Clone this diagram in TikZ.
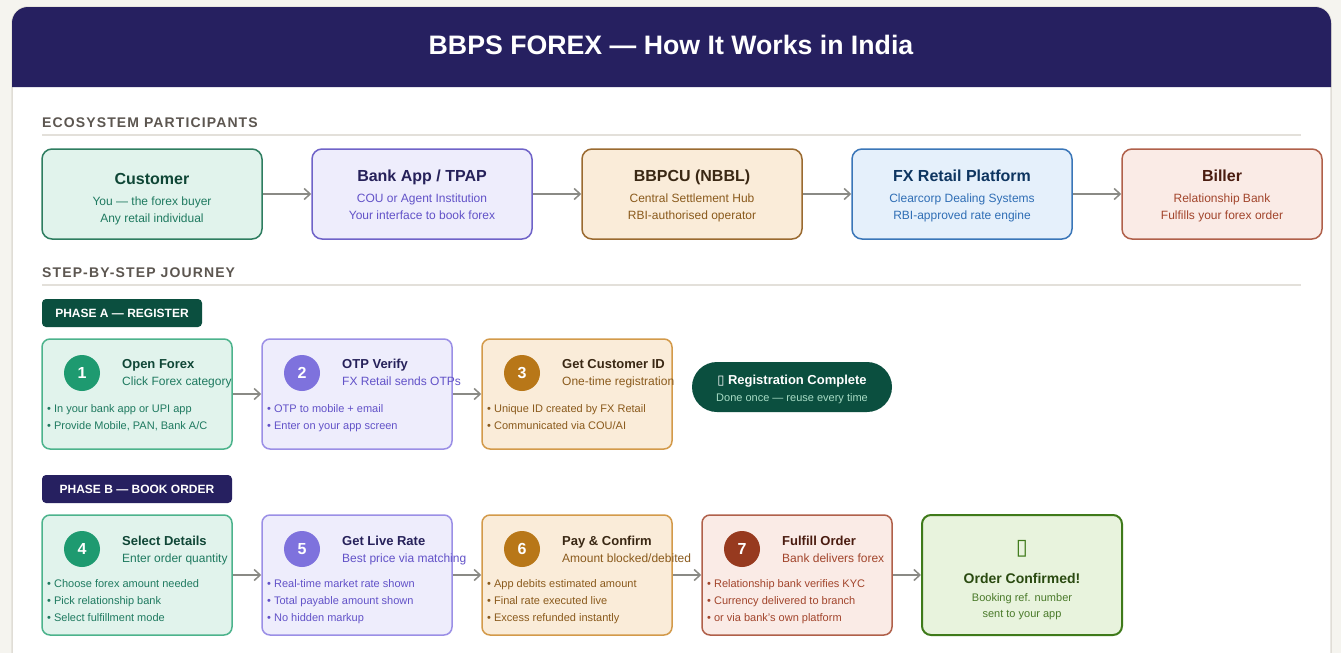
\documentclass[tikz,border=0pt]{standalone}
\usepackage{fontspec}
\setmainfont{Liberation Sans}
\newfontfamily\spacedfont[LetterSpace=8]{Liberation Sans}
\newfontfamily\symfont{DejaVu Sans}
\usetikzlibrary{arrows.meta}
\newcommand\fsz[2]{\fontsize{#1}{#2}\selectfont}
% page / card
\definecolor{pagebg}{HTML}{F5F4EF}
\definecolor{cardline}{HTML}{E0DDD6}
\definecolor{navy}{HTML}{262060}
\definecolor{darkgreen}{HTML}{0B4F3F}
\definecolor{headgrey}{HTML}{5C5650}
\definecolor{rulegrey}{HTML}{E3E0DA}
\definecolor{arrowgrey}{HTML}{8A8A85}
% green family
\definecolor{gFill}{HTML}{E1F3EC}
\definecolor{gLine}{HTML}{2E7D60}
\definecolor{gLineL}{HTML}{4CB38C}
\definecolor{gTitle}{HTML}{0F4636}
\definecolor{gText}{HTML}{1F7A60}
\definecolor{gCirc}{HTML}{1E9A70}
% purple family
\definecolor{pFill}{HTML}{EEEDFC}
\definecolor{pLine}{HTML}{6F63C8}
\definecolor{pLineL}{HTML}{9B8FE6}
\definecolor{pTitle}{HTML}{26215A}
\definecolor{pText}{HTML}{6252C8}
\definecolor{pCirc}{HTML}{7E72DD}
% amber family
\definecolor{aFill}{HTML}{FAECD9}
\definecolor{aLine}{HTML}{9A6A30}
\definecolor{aLineL}{HTML}{D39A4A}
\definecolor{aTitle}{HTML}{3A2814}
\definecolor{aText}{HTML}{8A5A1C}
\definecolor{aCirc}{HTML}{B87718}
% blue family
\definecolor{bFill}{HTML}{E5F0FB}
\definecolor{bLine}{HTML}{3A76B8}
\definecolor{bTitle}{HTML}{0E3560}
\definecolor{bText}{HTML}{2F6EB5}
% red family
\definecolor{rFill}{HTML}{FAEBE6}
\definecolor{rLine}{HTML}{B0604A}
\definecolor{rTitle}{HTML}{4A1C10}
\definecolor{rText}{HTML}{A2452C}
\definecolor{rCirc}{HTML}{973A1F}
% final
\definecolor{okFill}{HTML}{E8F3DD}
\definecolor{okLine}{HTML}{3F7A1A}
\definecolor{okTitle}{HTML}{2A4A10}
\definecolor{okText}{HTML}{4A7A2A}
\definecolor{pillText}{HTML}{A8DCC5}

\begin{document}
\begin{tikzpicture}[x=1pt,y=-1pt,
  ebox/.style={draw, rounded corners=10pt, line width=1.5pt, minimum width=220pt, minimum height=90pt, inner sep=0pt},
  sbox/.style={draw, rounded corners=8pt, line width=1.5pt, minimum width=190pt, minimum height=110pt, inner sep=0pt},
  num/.style={circle, minimum size=36pt, inner sep=0pt, text=white, font=\fsz{16}{19}\bfseries},
  txt/.style={inner sep=0pt, anchor=mid},
  etitle/.style={txt, yshift=-3pt, font=\fsz{16}{19}\bfseries},
  esub/.style={txt, yshift=-2pt, font=\fsz{12}{14}},
  stitle/.style={inner sep=0pt, anchor=mid west, yshift=-3pt, font=\fsz{13}{15}\bfseries},
  ssub/.style={inner sep=0pt, anchor=mid west, yshift=-3pt, font=\fsz{12}{14}},
  bullet/.style={inner sep=0pt, anchor=mid west, yshift=-2pt, font=\fsz{11}{13}},
  badge/.style={rounded corners=4pt, inner sep=0pt, minimum height=28pt, text=white, font=\fsz{12}{14}\bfseries},
  sechead/.style={inner sep=0pt, anchor=mid west, yshift=-3pt, text=headgrey, font=\fsz{14}{16}\spacedfont\bfseries},
  arr/.style={draw=arrowgrey, line width=1.5pt, -{Straight Barb[length=6pt,width=11pt,line width=1.5pt]}}
]
\useasboundingbox (0,0) rectangle (1341,653);
\fill[pagebg] (0,0) rectangle (1341,653);
% card
\draw[cardline, line width=1.5pt, fill=white, rounded corners=16pt] (12,720) -- (12,7) -- (1331,7) -- (1331,720);
\fill[navy] (12,87) [rounded corners=16pt] -- (12,7) -- (1331,7) [sharp corners] -- (1331,87) -- cycle;
\node[txt, yshift=-6pt, text=white, font=\fsz{26.7}{30}\bfseries] (title) at (671,46) {BBPS FOREX — How It Works in India};

% ecosystem
\node[sechead] (h1) at (42,122) {ECOSYSTEM PARTICIPANTS};
\draw[rulegrey, line width=2pt] (42,135) -- (1301,135);

\node[ebox, fill=gFill, draw=gLine] (cust) at (152,194) {};
\node[etitle, text=gTitle] (custt) at (152,179) {Customer};
\node[esub, text=gText] (cust1) at (152,201) {You — the forex buyer};
\node[esub, text=gText] (cust2) at (152,218) {Any retail individual};

\node[ebox, fill=pFill, draw=pLine] (bank) at (422,194) {};
\node[etitle, text=pTitle] (bankt) at (422,176) {Bank App / TPAP};
\node[esub, text=pText] (bank1) at (422,198) {COU or Agent Institution};
\node[esub, text=pText] (bank2) at (422,215) {Your interface to book forex};

\node[ebox, fill=aFill, draw=aLine] (bbpcu) at (692,194) {};
\node[etitle, text=aTitle] (bbpcut) at (692,176) {BBPCU (NBBL)};
\node[esub, text=aText] (bbpcu1) at (692,198) {Central Settlement Hub};
\node[esub, text=aText] (bbpcu2) at (692,215) {RBI-authorised operator};

\node[ebox, fill=bFill, draw=bLine] (fx) at (962,194) {};
\node[etitle, text=bTitle] (fxt) at (962,176) {FX Retail Platform};
\node[esub, text=bText] (fx1) at (962,198) {Clearcorp Dealing Systems};
\node[esub, text=bText] (fx2) at (962,215) {RBI-approved rate engine};

\node[ebox, minimum width=200pt, fill=rFill, draw=rLine] (biller) at (1222,194) {};
\node[etitle, text=rTitle] (billert) at (1222,176) {Biller};
\node[esub, text=rText] (biller1) at (1222,198) {Relationship Bank};
\node[esub, text=rText] (biller2) at (1222,215) {Fulfills your forex order};

\draw[arr] (cust.east) -- (bank.west);
\draw[arr] (bank.east) -- (bbpcu.west);
\draw[arr] (bbpcu.east) -- (fx.west);
\draw[arr] (fx.east) -- (biller.west);

% journey
\node[sechead] (h2) at (42,272) {STEP-BY-STEP JOURNEY};
\draw[rulegrey, line width=2pt] (42,285) -- (1301,285);

% phase A
\node[badge, fill=darkgreen, minimum width=160pt] (pa) at (122,313) {PHASE A — REGISTER};

\node[sbox, fill=gFill, draw=gLineL] (s1) at (137,394) {};
\node[num, fill=gCirc] (n1) at (82,373) {1};
\node[stitle, text=gTitle] (s1t) at (122,363) {Open Forex};
\node[ssub, text=gText] (s1s) at (122,380) {Click Forex category};
\node[bullet, text=gText] (s1a) at (47,408) {• In your bank app or UPI app};
\node[bullet, text=gText] (s1b) at (47,425) {• Provide Mobile, PAN, Bank A/C};

\node[sbox, fill=pFill, draw=pLineL] (s2) at (357,394) {};
\node[num, fill=pCirc] (n2) at (302,373) {2};
\node[stitle, text=pTitle] (s2t) at (342,363) {OTP Verify};
\node[ssub, text=pText] (s2s) at (342,380) {FX Retail sends OTPs};
\node[bullet, text=pText] (s2a) at (267,408) {• OTP to mobile + email};
\node[bullet, text=pText] (s2b) at (267,425) {• Enter on your app screen};

\node[sbox, fill=aFill, draw=aLineL] (s3) at (577,394) {};
\node[num, fill=aCirc] (n3) at (522,373) {3};
\node[stitle, text=aTitle] (s3t) at (562,363) {Get Customer ID};
\node[ssub, text=aText] (s3s) at (562,380) {One-time registration};
\node[bullet, text=aText] (s3a) at (487,408) {• Unique ID created by FX Retail};
\node[bullet, text=aText] (s3b) at (487,425) {• Communicated via COU/AI};

\draw[arr] (s1.east) -- (s2.west);
\draw[arr] (s2.east) -- (s3.west);

\node[fill=darkgreen, rounded corners=25pt, minimum width=200pt, minimum height=50pt, inner sep=0pt] (reg) at (792,387) {};
\node[txt, yshift=-3pt, text=white, font=\fsz{13}{15}\bfseries] (regt) at (792,379) {{\symfont\fsz{13}{15}\char"25AF}\ Registration Complete};
\node[txt, yshift=-2pt, text=pillText, font=\fsz{11}{13}] (regs) at (792,397) {Done once — reuse every time};

% phase B
\node[badge, fill=navy, minimum width=190pt] (pb) at (137,489) {PHASE B — BOOK ORDER};

\node[sbox, minimum height=120pt, fill=gFill, draw=gLineL] (s4) at (137,575) {};
\node[num, fill=gCirc] (n4) at (82,549) {4};
\node[stitle, text=gTitle] (s4t) at (122,540) {Select Details};
\node[ssub, text=gText] (s4s) at (122,557) {Enter order quantity};
\node[bullet, text=gText] (s4a) at (47,583) {• Choose forex amount needed};
\node[bullet, text=gText] (s4b) at (47,600) {• Pick relationship bank};
\node[bullet, text=gText] (s4c) at (47,617) {• Select fulfillment mode};

\node[sbox, minimum height=120pt, fill=pFill, draw=pLineL] (s5) at (357,575) {};
\node[num, fill=pCirc] (n5) at (302,549) {5};
\node[stitle, text=pTitle] (s5t) at (342,540) {Get Live Rate};
\node[ssub, text=pText] (s5s) at (342,557) {Best price via matching};
\node[bullet, text=pText] (s5a) at (267,583) {• Real-time market rate shown};
\node[bullet, text=pText] (s5b) at (267,600) {• Total payable amount shown};
\node[bullet, text=pText] (s5c) at (267,617) {• No hidden markup};

\node[sbox, minimum height=120pt, fill=aFill, draw=aLineL] (s6) at (577,575) {};
\node[num, fill=aCirc] (n6) at (522,549) {6};
\node[stitle, text=aTitle] (s6t) at (562,540) {Pay \& Confirm};
\node[ssub, text=aText] (s6s) at (562,557) {Amount blocked/debited};
\node[bullet, text=aText] (s6a) at (487,583) {• App debits estimated amount};
\node[bullet, text=aText] (s6b) at (487,600) {• Final rate executed live};
\node[bullet, text=aText] (s6c) at (487,617) {• Excess refunded instantly};

\node[sbox, minimum height=120pt, fill=rFill, draw=rLine] (s7) at (797,575) {};
\node[num, fill=rCirc] (n7) at (742,549) {7};
\node[stitle, text=rTitle] (s7t) at (782,540) {Fulfill Order};
\node[ssub, text=rText] (s7s) at (782,557) {Bank delivers forex};
\node[bullet, text=rText] (s7a) at (707,583) {• Relationship bank verifies KYC};
\node[bullet, text=rText] (s7b) at (707,600) {• Currency delivered to branch};
\node[bullet, text=rText] (s7c) at (707,617) {• or via bank’s own platform};

\node[draw=okLine, fill=okFill, line width=2pt, rounded corners=9pt, minimum width=200pt, minimum height=120pt, inner sep=0pt] (ok) at (1022,575) {};
\node[txt, text=okLine, font=\symfont\fsz{22}{24}] (okicon) at (1022,552) {\char"25AF};
\node[txt, yshift=-3pt, text=okTitle, font=\fsz{14}{17}\bfseries] (okt) at (1022,578) {Order Confirmed!};
\node[txt, yshift=-2pt, text=okText, font=\fsz{11}{13}] (ok1) at (1022,597) {Booking ref. number};
\node[txt, yshift=-2pt, text=okText, font=\fsz{11}{13}] (ok2) at (1022,613) {sent to your app};

\draw[arr] (s4.east) -- (s5.west);
\draw[arr] (s5.east) -- (s6.west);
\draw[arr] (s6.east) -- (s7.west);
\draw[arr] (s7.east) -- (ok.west);
\end{tikzpicture}
\end{document}
